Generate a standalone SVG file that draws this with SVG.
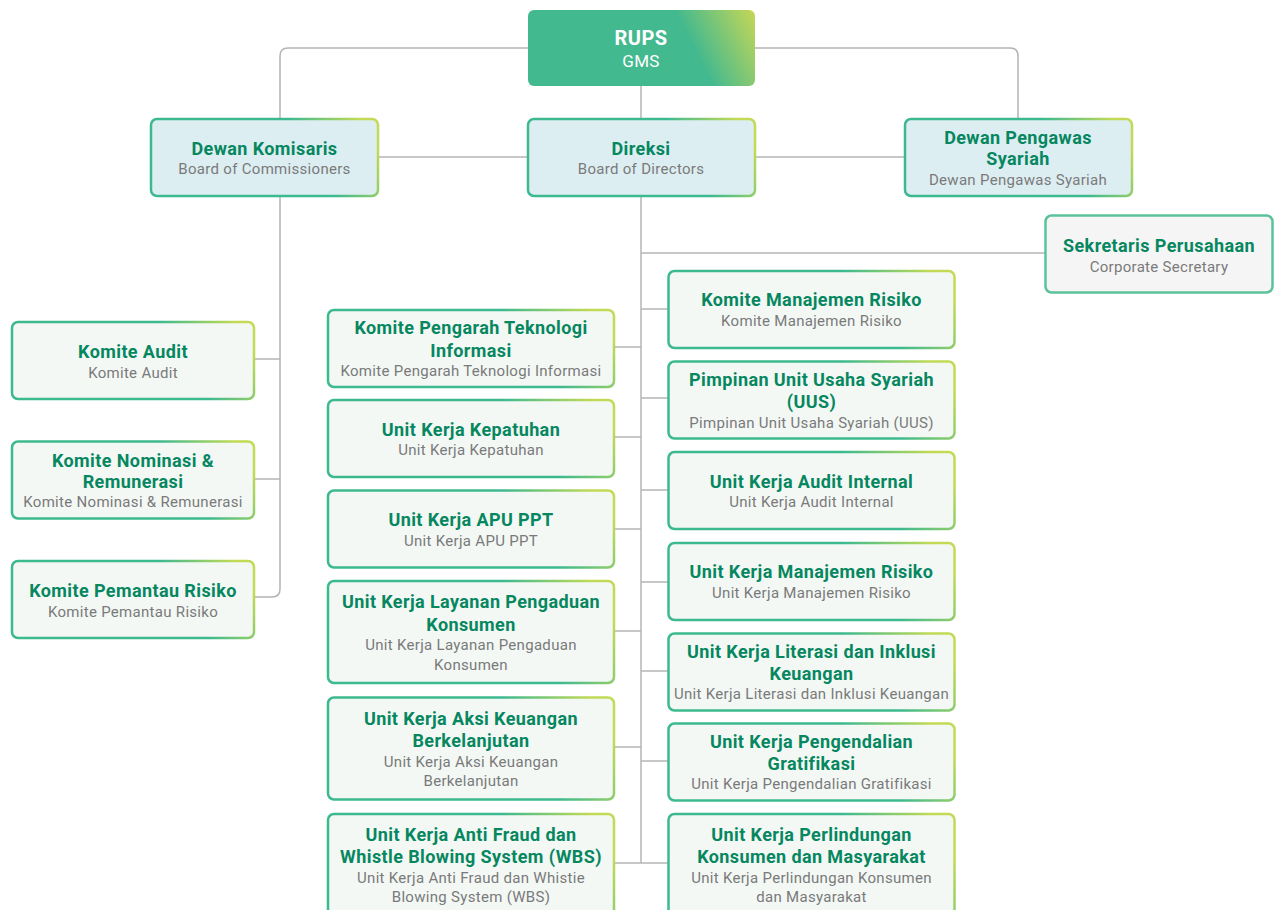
<svg xmlns="http://www.w3.org/2000/svg" width="1274" height="910" viewBox="0 0 1274 910">
<defs>
<linearGradient id="bd" x1="0" y1="0.6" x2="1" y2="0.4">
<stop offset="0" stop-color="#3db98f"/>
<stop offset="0.7" stop-color="#3db98f"/>
<stop offset="1" stop-color="#c2da55"/>
</linearGradient>
<linearGradient id="rg" gradientUnits="userSpaceOnUse" x1="676" y1="52" x2="756" y2="12">
<stop offset="0" stop-color="#43b98f"/>
<stop offset="0.2" stop-color="#43b98f"/>
<stop offset="1" stop-color="#c6d756"/>
</linearGradient>
<style>
.top rect{fill:#ddeef2;stroke:url(#bd);stroke-width:2.5}
.box rect{fill:#f3f8f5;stroke:url(#bd);stroke-width:2.5}
.t{font-family:Roboto,"Liberation Sans",sans-serif;font-weight:bold;font-size:18px;letter-spacing:0.4px;fill:#06875f;text-anchor:middle}
.s{font-family:Roboto,"Liberation Sans",sans-serif;font-size:15px;letter-spacing:0.3px;fill:#7a7a7a;text-anchor:middle}
.con path{fill:none;stroke:#b4b4b4;stroke-width:1.5}
</style>
</defs>
<rect width="1274" height="910" fill="#ffffff"/>
<g class="con" id="connectors">
<path d="M528,48 H288 Q280,48 280,56 V119"/>
<path d="M754,48 H1010 Q1018,48 1018,56 V119"/>
<path d="M641,86 V119"/>
<path d="M378,157 H527"/>
<path d="M755,157 H904"/>
<path d="M280,196 V589 Q280,597 272,597 H254"/>
<path d="M254,359 H280"/>
<path d="M254,479 H280"/>
<path d="M641,196 V863"/>
<path d="M641,253 H1045"/>
<path d="M641,309 H668"/>
<path d="M641,398 H668"/>
<path d="M641,490 H668"/>
<path d="M641,582 H668"/>
<path d="M641,671 H668"/>
<path d="M641,761 H668"/>
<path d="M614,863 H668"/>
<path d="M614,347 H641"/>
<path d="M614,437 H641"/>
<path d="M614,529 H641"/>
<path d="M614,631 H641"/>
<path d="M614,747 H641"/>
</g>
<g id="rups">
<rect x="528" y="10" width="227" height="76" rx="6" fill="url(#rg)"/>
<text x="641" y="45" font-family="Roboto,'Liberation Sans',sans-serif" font-weight="bold" font-size="20" letter-spacing="0.4" fill="#ffffff" text-anchor="middle">RUPS</text>
<text x="641" y="67" font-family="Roboto,'Liberation Sans',sans-serif" font-size="17" letter-spacing="0.3" fill="#ffffff" text-anchor="middle">GMS</text>
</g>
<g id="dewan-komisaris" class="top">
<rect x="151" y="119" width="227" height="77" rx="6"/>
<text class="t" x="264.5" y="155">Dewan Komisaris</text>
<text class="s" x="264.5" y="174">Board of Commissioners</text>
</g>
<g id="direksi" class="top">
<rect x="528" y="119" width="227" height="77" rx="6"/>
<text class="t" x="641" y="155">Direksi</text>
<text class="s" x="641" y="174">Board of Directors</text>
</g>
<g id="dps" class="top">
<rect x="905" y="119" width="227" height="77" rx="6"/>
<text class="t" x="1018" y="144">Dewan Pengawas</text>
<text class="t" x="1018" y="165">Syariah</text>
<text class="s" x="1018" y="185">Dewan Pengawas Syariah</text>
</g>
<g id="sekretaris">
<rect x="1045.5" y="215.5" width="227" height="77" rx="6" fill="#f5f5f5" stroke="#5cc29b" stroke-width="2.5"/>
<text class="t" x="1159" y="251.5">Sekretaris Perusahaan</text>
<text class="s" x="1159" y="271.5">Corporate Secretary</text>
</g>
<g id="komite-audit" class="box">
<rect x="12" y="322" width="242" height="77" rx="6"/>
<text class="t" x="133" y="358">Komite Audit</text>
<text class="s" x="133" y="378">Komite Audit</text>
</g>
<g id="komite-nominasi" class="box">
<rect x="12" y="441.5" width="242" height="77" rx="6"/>
<text class="t" x="133" y="466.5">Komite Nominasi &amp;</text>
<text class="t" x="133" y="488">Remunerasi</text>
<text class="s" x="133" y="507">Komite Nominasi &amp; Remunerasi</text>
</g>
<g id="komite-pemantau" class="box">
<rect x="12" y="561" width="242" height="77" rx="6"/>
<text class="t" x="133" y="597">Komite Pemantau Risiko</text>
<text class="s" x="133" y="617">Komite Pemantau Risiko</text>
</g>
<g id="komite-ti" class="box">
<rect x="328" y="310" width="286" height="77" rx="6"/>
<text class="t" x="471" y="333.5">Komite Pengarah Teknologi</text>
<text class="t" x="471" y="356.5">Informasi</text>
<text class="s" x="471" y="376">Komite Pengarah Teknologi Informasi</text>
</g>
<g id="kepatuhan" class="box">
<rect x="328" y="400" width="286" height="77" rx="6"/>
<text class="t" x="471" y="436">Unit Kerja Kepatuhan</text>
<text class="s" x="471" y="455">Unit Kerja Kepatuhan</text>
</g>
<g id="apu-ppt" class="box">
<rect x="328" y="490.5" width="286" height="77" rx="6"/>
<text class="t" x="471" y="526">Unit Kerja APU PPT</text>
<text class="s" x="471" y="546">Unit Kerja APU PPT</text>
</g>
<g id="layanan" class="box">
<rect x="328" y="581" width="286" height="102" rx="6"/>
<text class="t" x="471" y="607.5">Unit Kerja Layanan Pengaduan</text>
<text class="t" x="471" y="630.5">Konsumen</text>
<text class="s" x="471" y="650">Unit Kerja Layanan Pengaduan</text>
<text class="s" x="471" y="669.5">Konsumen</text>
</g>
<g id="aksi" class="box">
<rect x="328" y="697.5" width="286" height="102" rx="6"/>
<text class="t" x="471" y="724.5">Unit Kerja Aksi Keuangan</text>
<text class="t" x="471" y="747">Berkelanjutan</text>
<text class="s" x="471" y="767">Unit Kerja Aksi Keuangan</text>
<text class="s" x="471" y="786">Berkelanjutan</text>
</g>
<g id="anti-fraud" class="box">
<rect x="328" y="814" width="286" height="106" rx="6"/>
<text class="t" x="471" y="840.5">Unit Kerja Anti Fraud dan</text>
<text class="t" x="471" y="863">Whistle Blowing System (WBS)</text>
<text class="s" x="471" y="883">Unit Kerja Anti Fraud dan Whistie</text>
<text class="s" x="471" y="902">Blowing System (WBS)</text>
</g>
<g id="komite-mr" class="box">
<rect x="668.5" y="271" width="286" height="77" rx="6"/>
<text class="t" x="811.5" y="306">Komite Manajemen Risiko</text>
<text class="s" x="811.5" y="326">Komite Manajemen Risiko</text>
</g>
<g id="uus" class="box">
<rect x="668.5" y="361.5" width="286" height="77" rx="6"/>
<text class="t" x="811.5" y="385.5">Pimpinan Unit Usaha Syariah</text>
<text class="t" x="811.5" y="408">(UUS)</text>
<text class="s" x="811.5" y="428">Pimpinan Unit Usaha Syariah (UUS)</text>
</g>
<g id="audit-internal" class="box">
<rect x="668.5" y="452" width="286" height="77" rx="6"/>
<text class="t" x="811.5" y="487.5">Unit Kerja Audit Internal</text>
<text class="s" x="811.5" y="507">Unit Kerja Audit Internal</text>
</g>
<g id="ukmr" class="box">
<rect x="668.5" y="543" width="286" height="77" rx="6"/>
<text class="t" x="811.5" y="578">Unit Kerja Manajemen Risiko</text>
<text class="s" x="811.5" y="597.5">Unit Kerja Manajemen Risiko</text>
</g>
<g id="literasi" class="box">
<rect x="668.5" y="633.5" width="286" height="77" rx="6"/>
<text class="t" x="811.5" y="658">Unit Kerja Literasi dan Inklusi</text>
<text class="t" x="811.5" y="680">Keuangan</text>
<text class="s" x="811.5" y="699">Unit Kerja Literasi dan Inklusi Keuangan</text>
</g>
<g id="gratifikasi" class="box">
<rect x="668.5" y="723.5" width="286" height="77" rx="6"/>
<text class="t" x="811.5" y="748">Unit Kerja Pengendalian</text>
<text class="t" x="811.5" y="770">Gratifikasi</text>
<text class="s" x="811.5" y="789">Unit Kerja Pengendalian Gratifikasi</text>
</g>
<g id="perlindungan" class="box">
<rect x="668.5" y="814" width="286" height="106" rx="6"/>
<text class="t" x="811.5" y="840.5">Unit Kerja Perlindungan</text>
<text class="t" x="811.5" y="863">Konsumen dan Masyarakat</text>
<text class="s" x="811.5" y="883">Unit Kerja Perlindungan Konsumen</text>
<text class="s" x="811.5" y="902">dan Masyarakat</text>
</g>
</svg>
